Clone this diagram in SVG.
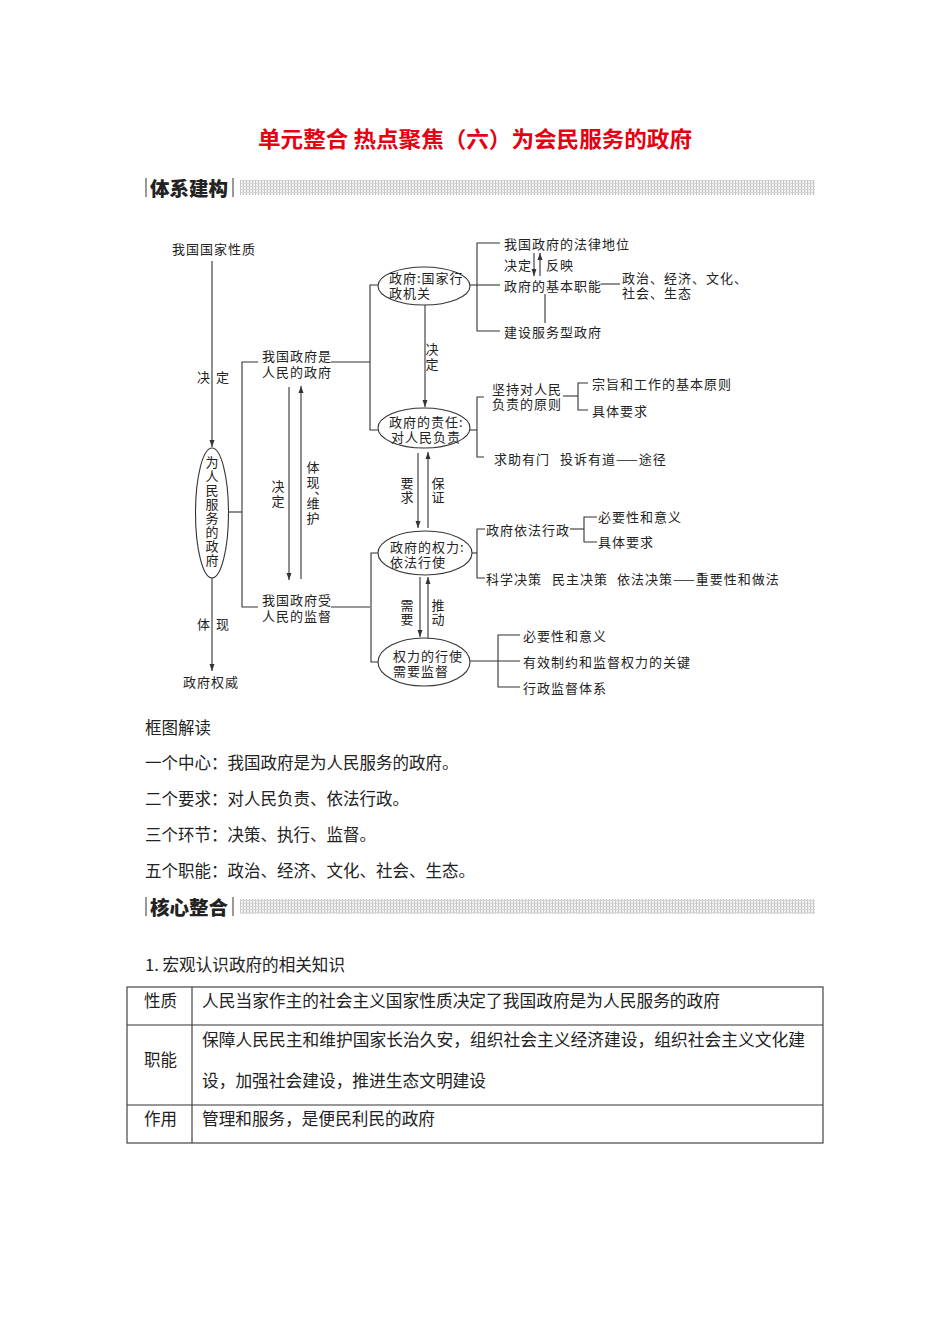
<svg xmlns="http://www.w3.org/2000/svg" width="950" height="1344" viewBox="0 0 950 1344">
<defs>
<style>
.t{font-family:"Noto Sans CJK SC","Noto Sans",sans-serif;font-size:13px;letter-spacing:1px;fill:#222;dominant-baseline:central}
.vt{font-family:"Noto Sans CJK SC","Noto Sans",sans-serif;font-size:13px;fill:#222;writing-mode:vertical-rl;letter-spacing:1px}
.b{font-family:"Noto Sans CJK SC","Noto Sans",sans-serif;font-size:16.5px;fill:#222;dominant-baseline:central}
.ln{stroke:#333;stroke-width:1.1;fill:none}
.ar{stroke:#333;stroke-width:1.1;fill:none;marker-end:url(#ah)}
.el{stroke:#333;stroke-width:1.1;fill:#fff}
.hd{font-family:"Noto Sans CJK SC",sans-serif;font-size:19.5px;font-weight:900;fill:#222;dominant-baseline:central}
.bar{stroke:#555;stroke-width:1.2}
</style>
<marker id="ah" markerUnits="userSpaceOnUse" markerWidth="8" markerHeight="8" refX="7" refY="3" orient="auto">
<path d="M0,0.5 L7,3 L0,5.5 z" fill="#333"/>
</marker>
<pattern id="dots" width="3" height="3" patternUnits="userSpaceOnUse">
<rect width="3" height="3" fill="#f2f2f2"/>
<rect width="1" height="3" fill="#c4c4c4"/>
<rect width="3" height="1" fill="#d6d6d6"/>
</pattern>
</defs>
<rect width="950" height="1344" fill="#fff"/>

<text x="475" y="137" text-anchor="middle" font-family="Noto Sans CJK SC, sans-serif" font-size="22" font-weight="bold" fill="#e60012" dominant-baseline="central" textLength="434" lengthAdjust="spacingAndGlyphs">单元整合  热点聚焦（六）为会民服务的政府</text>

<g id="header1">
<line class="bar" x1="146" y1="178" x2="146" y2="197"/>
<text class="hd" x="150" y="187" textLength="78" lengthAdjust="spacingAndGlyphs">体系建构</text>
<line class="bar" x1="233" y1="178" x2="233" y2="197"/>
<rect x="240" y="180" width="575" height="15" fill="url(#dots)"/>
</g>

<g id="connectors">
<line class="ar" x1="212" y1="261" x2="212" y2="447"/>
<line class="ar" x1="212" y1="578" x2="212" y2="671"/>
<polyline class="ln" points="228.5,512 242,512"/>
<polyline class="ln" points="258,362 242,362 242,607 258,607"/>
<line class="ar" x1="289" y1="387" x2="289" y2="580"/>
<line class="ar" x1="301" y1="579" x2="301" y2="386"/>
<line class="ln" x1="331" y1="362" x2="370" y2="362"/>
<line class="ln" x1="331" y1="607" x2="370" y2="607"/>
<polyline class="ln" points="378,285 370,285 370,430 378,430"/>
<polyline class="ln" points="378,553 371,553 371,662 378,662"/>
<line class="ln" x1="470" y1="285" x2="500" y2="285"/>
<polyline class="ln" points="500,243 477,243 477,331 500,331"/>
<line class="ar" x1="534" y1="253" x2="534" y2="276"/>
<line class="ar" x1="540" y1="276" x2="540" y2="253"/>
<line class="ln" x1="601" y1="284" x2="620" y2="284"/>
<line class="ln" x1="545" y1="294" x2="545" y2="323"/>
<line class="ar" x1="425" y1="305" x2="425" y2="407"/>
<line class="ln" x1="470" y1="430" x2="477" y2="430"/>
<polyline class="ln" points="484,397 477,397 477,457 484,457"/>
<line class="ln" x1="563" y1="396" x2="578" y2="396"/>
<polyline class="ln" points="588,383 578,383 578,410 588,410"/>
<line class="ar" x1="418" y1="453" x2="418" y2="528"/>
<line class="ar" x1="428" y1="528" x2="428" y2="452"/>
<line class="ln" x1="472" y1="553" x2="477" y2="553"/>
<polyline class="ln" points="485,529 477,529 477,578 485,578"/>
<line class="ln" x1="570" y1="529" x2="584" y2="529"/>
<polyline class="ln" points="597,517 584,517 584,542 597,542"/>
<line class="ar" x1="420" y1="577" x2="420" y2="637"/>
<line class="ar" x1="428" y1="638" x2="428" y2="577"/>
<line class="ln" x1="470" y1="661" x2="520" y2="661"/>
<polyline class="ln" points="520,635 498,635 498,687 520,687"/>
</g>

<g id="n-nature"><text class="t" x="172" y="248">我国国家性质</text></g>
<g id="l-decide1"><text class="t" y="376"><tspan x="197">决</tspan><tspan x="216">定</tspan></text></g>
<g id="n-serve">
<ellipse class="el" cx="212" cy="513" rx="16.5" ry="65"/>
<text class="vt" x="212" y="455.5">为人民服务的政府</text>
</g>
<g id="l-embody1"><text class="t" y="623"><tspan x="197">体</tspan><tspan x="216">现</tspan></text></g>
<g id="n-authority"><text class="t" x="183" y="681">政府权威</text></g>

<g id="n-people-gov"><text class="t"><tspan x="262" y="355">我国政府是</tspan><tspan x="262" y="371">人民的政府</tspan></text></g>
<g id="n-supervised"><text class="t"><tspan x="262" y="599">我国政府受</tspan><tspan x="262" y="615">人民的监督</tspan></text></g>
<g id="l-decide2"><text class="vt" x="278" y="479.5" style="letter-spacing:2px">决定</text></g>
<g id="l-embody2"><text class="vt" style="letter-spacing:2px"><tspan x="313" y="460.5">体现、</tspan><tspan x="313" y="496.5">维护</tspan></text></g>

<g id="n-e1">
<ellipse class="el" cx="424" cy="286" rx="46" ry="19"/>
<text class="t"><tspan x="389" y="277">政府:国家行</tspan><tspan x="389" y="292">政机关</tspan></text>
</g>
<g id="n-legal"><text class="t" x="504" y="243">我国政府的法律地位</text></g>
<g id="l-decide3"><text class="t" y="264"><tspan x="504">决定</tspan><tspan x="546">反映</tspan></text></g>
<g id="n-functions"><text class="t" x="504" y="285">政府的基本职能</text></g>
<g id="n-five"><text class="t"><tspan x="622" y="277">政治、经济、文化、</tspan><tspan x="622" y="292">社会、生态</tspan></text></g>
<g id="n-service"><text class="t" x="504" y="331">建设服务型政府</text></g>
<g id="l-decide4"><text class="vt" x="432" y="343" style="letter-spacing:2px">决定</text></g>

<g id="n-e2">
<ellipse class="el" cx="424" cy="428" rx="46" ry="20"/>
<text class="t"><tspan x="389" y="421">政府的责任:</tspan><tspan x="391" y="436">对人民负责</tspan></text>
</g>
<g id="n-principle"><text class="t"><tspan x="492" y="388">坚持对人民</tspan><tspan x="492" y="403">负责的原则</tspan></text></g>
<g id="n-aim"><text class="t" x="592" y="383">宗旨和工作的基本原则</text></g>
<g id="n-req1"><text class="t" x="592" y="410">具体要求</text></g>
<g id="n-channel"><text class="t" y="458"><tspan x="494">求助有门</tspan><tspan x="560">投诉有道——途径</tspan></text></g>
<g id="l-require"><text class="vt" x="407" y="476.5">要求</text><text class="vt" x="438" y="476.5">保证</text></g>

<g id="n-e3">
<ellipse class="el" cx="425" cy="553" rx="47" ry="22"/>
<text class="t"><tspan x="390" y="546">政府的权力:</tspan><tspan x="390" y="561">依法行使</tspan></text>
</g>
<g id="n-law"><text class="t" x="486" y="529">政府依法行政</text></g>
<g id="n-sig1"><text class="t" x="598" y="516">必要性和意义</text></g>
<g id="n-req2"><text class="t" x="598" y="541">具体要求</text></g>
<g id="n-decision"><text class="t" y="578"><tspan x="486">科学决策</tspan><tspan x="552">民主决策</tspan><tspan x="617">依法决策——重要性和做法</tspan></text></g>
<g id="l-need"><text class="vt" x="407" y="598.5">需要</text><text class="vt" x="438" y="598.5">推动</text></g>

<g id="n-e4">
<ellipse class="el" cx="424" cy="662" rx="46" ry="24"/>
<text class="t"><tspan x="393" y="655">权力的行使</tspan><tspan x="393" y="670">需要监督</tspan></text>
</g>
<g id="n-sig2"><text class="t" x="523" y="635">必要性和意义</text></g>
<g id="n-key"><text class="t" x="523" y="661">有效制约和监督权力的关键</text></g>
<g id="n-system"><text class="t" x="523" y="687">行政监督体系</text></g>

<g id="reading">
<text class="b" x="145" y="727">框图解读</text>
<text class="b" x="145" y="762">一个中心：我国政府是为人民服务的政府。</text>
<text class="b" x="145" y="798">二个要求：对人民负责、依法行政。</text>
<text class="b" x="145" y="834">三个环节：决策、执行、监督。</text>
<text class="b" x="145" y="870">五个职能：政治、经济、文化、社会、生态。</text>
</g>

<g id="header2">
<line class="bar" x1="146" y1="897" x2="146" y2="916"/>
<text class="hd" x="150" y="906" textLength="78" lengthAdjust="spacingAndGlyphs">核心整合</text>
<line class="bar" x1="233" y1="897" x2="233" y2="916"/>
<rect x="240" y="899" width="575" height="15" fill="url(#dots)"/>
</g>

<text class="b" x="145" y="964" textLength="200" lengthAdjust="spacingAndGlyphs">1. 宏观认识政府的相关知识</text>

<g id="table">
<rect x="127" y="987" width="696" height="156" fill="none" stroke="#333" stroke-width="1.1"/>
<line class="ln" x1="127" y1="1025" x2="823" y2="1025"/>
<line class="ln" x1="127" y1="1105" x2="823" y2="1105"/>
<line class="ln" x1="192" y1="987" x2="192" y2="1143"/>
<text class="b" x="144" y="1000">性质</text>
<text class="b" x="202" y="1000" textLength="518" lengthAdjust="spacingAndGlyphs">人民当家作主的社会主义国家性质决定了我国政府是为人民服务的政府</text>
<text class="b" x="144" y="1059">职能</text>
<text class="b" x="202" y="1039" textLength="603" lengthAdjust="spacingAndGlyphs">保障人民民主和维护国家长治久安，组织社会主义经济建设，组织社会主义文化建</text>
<text class="b" x="202" y="1080" textLength="284" lengthAdjust="spacingAndGlyphs">设，加强社会建设，推进生态文明建设</text>
<text class="b" x="144" y="1118">作用</text>
<text class="b" x="202" y="1118" textLength="233" lengthAdjust="spacingAndGlyphs">管理和服务，是便民利民的政府</text>
</g>
</svg>
